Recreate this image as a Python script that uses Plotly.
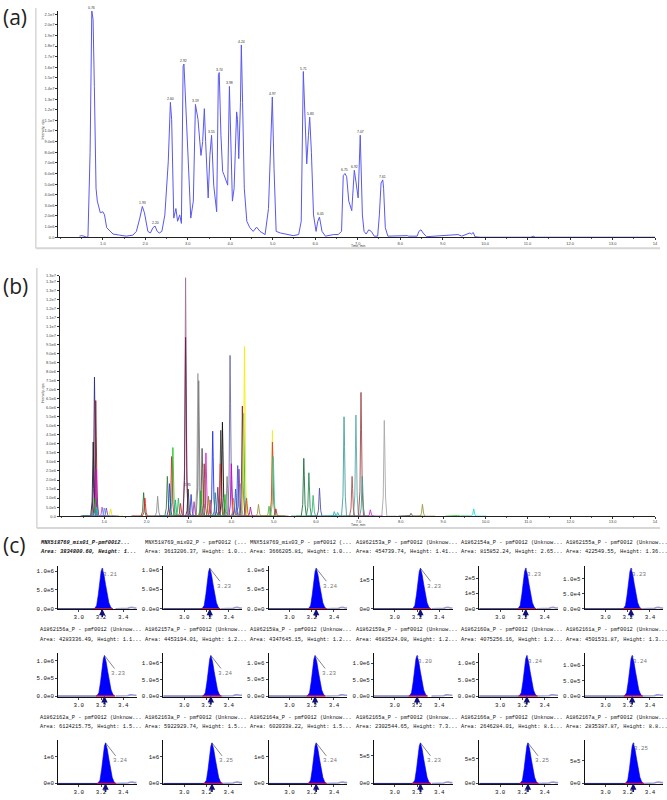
import plotly.graph_objects as go

W, H = 667, 800

# ---------------- (a) total ion chromatogram (intensity in 1e6 cps)
tic_time = [0.45, 0.50, 0.55, 0.60, 0.62, 0.65, 0.70, 0.74, 0.77, 0.80,
            0.84, 0.87, 0.94, 1.00, 1.04, 1.09, 1.16, 1.24, 1.39, 1.55,
            1.71, 1.79, 1.87, 1.93, 1.98, 2.06, 2.12, 2.18, 2.23, 2.28,
            2.33, 2.39, 2.46, 2.54, 2.59, 2.62, 2.67, 2.72, 2.76, 2.81,
            2.85, 2.89, 2.91, 2.95, 3.01, 3.07, 3.13, 3.18, 3.24, 3.31,
            3.35, 3.39, 3.42, 3.48, 3.52, 3.56, 3.61, 3.68, 3.72, 3.74,
            3.78, 3.82, 3.85, 3.91, 3.94, 3.98, 4.01, 4.05, 4.09, 4.15,
            4.17, 4.20, 4.24, 4.26, 4.29, 4.33, 4.39, 4.46, 4.54, 4.62,
            4.70, 4.82, 4.90, 4.95, 4.99, 5.03, 5.08, 5.18, 5.33, 5.48,
            5.61, 5.67, 5.72, 5.76, 5.80, 5.84, 5.87, 5.91, 5.96, 6.02,
            6.06, 6.10, 6.16, 6.24, 6.43, 6.54, 6.62, 6.66, 6.70, 6.74,
            6.79, 6.86, 6.92, 6.96, 7.01, 7.06, 7.11, 7.15, 7.20, 7.26,
            7.32, 7.39, 7.47, 7.51, 7.55, 7.59, 7.61, 7.65, 7.71, 8.17,
            8.20, 8.40, 8.44, 8.49, 8.54, 8.62, 8.93, 9.36, 9.45, 9.64,
            9.68, 9.72, 9.76, 9.88, 11.08, 11.13, 11.18, 14.0]
tic_int = [0.10, 0.15, 0.10, 0.05, 0.00, 0.05, 8.0, 21.3, 20.5, 14.2,
           4.6, 3.4, 2.3, 2.4, 2.1, 0.9, 0.6, 0.3, 0.2, 0.1,
           0.2, 0.55, 1.8, 2.9, 2.3, 0.55, 0.4, 0.9, 1.05, 0.55,
           0.4, 0.55, 2.1, 7.1, 12.7, 11.1, 1.8, 2.7, 1.5, 2.1,
           1.3, 16.1, 16.3, 12.7, 6.5, 1.8, 3.4, 12.5, 11.1, 7.7,
           9.0, 12.1, 9.0, 3.7, 7.7, 9.6, 4.9, 2.4, 15.3, 15.5,
           9.6, 6.2, 5.9, 5.1, 4.9, 14.2, 9.6, 3.4, 4.6, 11.8,
           11.1, 7.4, 12.7, 18.1, 12.7, 4.6, 1.5, 0.9, 0.55, 0.95,
           0.55, 0.25, 2.7, 8.0, 13.2, 6.5, 0.55, 0.4, 0.25, 0.15,
           0.25, 1.5, 15.6, 11.1, 6.9, 9.6, 11.3, 8.0, 2.1, 0.55,
           1.5, 1.9, 0.55, 0.1, 0.25, 0.25, 0.55, 5.8, 6.0, 5.7,
           3.4, 2.5, 6.3, 5.2, 3.7, 9.6, 2.1, 0.55, 0.3, 0.7,
           0.55, 0.1, 0.1, 2.1, 5.1, 5.4, 4.6, 0.9, 0.1, 0.15,
           0.1, 0.1, 0.55, 0.7, 0.4, 0.05, 0.15, 0.25, 0.1, 0.4,
           0.3, 0.45, 0.05, 0.0, 0.0, 0.1, 0.0, 0.0]
assert len(tic_time) == len(tic_int)

tic_label = ["0.76", "1.93", "2.20", "2.60", "2.92", "3.19", "3.55", "3.74", "3.98",
             "4.24", "4.97", "5.71", "5.83", "6.05", "6.75", "6.92", "7.07", "7.61"]
tic_label_t = [0.74, 1.93, 2.23, 2.59, 2.91, 3.18, 3.56, 3.74, 3.98,
               4.26, 4.99, 5.72, 5.90, 6.12, 6.70, 6.92, 7.06, 7.59]
tic_label_i = [21.3, 2.9, 1.05, 12.7, 16.3, 12.5, 9.6, 15.5, 14.2,
               18.1, 13.2, 15.6, 11.3, 1.9, 6.0, 6.3, 9.6, 5.4]

a_ytick_vals = list(range(0, 22))
a_ytick_text = ["0.0", "1.0e6", "2.0e6", "3.0e6", "4.0e6", "5.0e6", "6.0e6", "7.0e6",
                "8.0e6", "9.0e6", "1.0e7", "1.1e7", "1.2e7", "1.3e7", "1.4e7", "1.5e7",
                "1.6e7", "1.7e7", "1.8e7", "1.9e7", "2.0e7", "2.1e7"]

time_ticks = [1, 2, 3, 4, 5, 6, 7, 8, 9, 10, 11, 12, 13, 14]
time_tick_text = ["1.0", "2.0", "3.0", "4.0", "5.0", "6.0", "7.0", "8.0", "9.0",
                  "10.0", "11.0", "12.0", "13.0", "14"]

# ---------------- (b) overlaid extracted ion chromatograms (apex rt, height in 1e6 cps)
xic_rt = [0.77, 0.80, 0.74, 0.81, 0.79, 0.82, 1.15, 1.05, 1.93, 1.96,
          2.26, 2.62, 2.49, 2.59, 2.54, 2.92, 2.92, 2.75, 2.98, 3.21,
          3.23, 3.31, 3.40, 3.36, 3.56, 3.75, 3.79, 3.74, 3.90, 3.97,
          4.00, 4.15, 4.18, 4.26, 4.29, 4.31, 4.36, 4.64, 4.97, 4.97,
          4.99, 4.89, 5.71, 5.83, 5.93, 6.08, 6.51, 6.66, 6.94, 7.06,
          6.85, 7.09, 7.61, 7.28, 6.43, 8.51, 8.24, 9.72, 9.35,
          2.68, 2.80, 3.05, 3.12, 3.28, 3.46, 3.50, 3.62, 3.68, 3.85,
          4.05, 4.10, 4.22, 4.45, 5.05, 0.95, 1.00]
xic_height = [7.7, 6.4, 4.1, 2.6, 1.0, 0.5, 0.4, 0.45, 1.3, 1.0,
              1.1, 3.8, 2.2, 3.3, 1.8, 13.2, 9.9, 1.0, 1.5, 7.9,
              7.5, 3.75, 3.5, 2.9, 4.7, 4.75, 5.2, 2.9, 2.2, 8.9,
              2.9, 2.8, 2.6, 6.1, 5.7, 9.4, 1.0, 0.65, 4.75, 4.1,
              3.3, 0.55, 3.2, 2.4, 1.15, 1.55, 0.2, 5.5, 5.6, 6.85,
              2.2, 2.2, 5.3, 0.35, 0.25, 0.65, 0.15, 0.4, 0.05,
              0.9, 0.7, 1.2, 0.8, 1.4, 1.1, 0.9, 1.3, 1.6, 1.2,
              1.0, 1.5, 1.8, 0.5, 0.4, 0.5, 0.45]
xic_colors = ["#2E2E8A", "#8B1A1A", "#222222", "#E000E0", "#22AA22", "#00CCCC", "#E6E600", "#8040C0", "#1E7B3C", "#DD2222",
              "#909090", "#22CC22", "#3A7D3A", "#CC3333", "#2244DD", "#A07095", "#6B1F4B", "#33BB55", "#333333", "#A0A0A0",
              "#7A7A7A", "#555555", "#DD22DD", "#8B4513", "#2233EE", "#444444", "#111111", "#E03030", "#808080", "#6A6AA8",
              "#CC00CC", "#3355FF", "#7744AA", "#8B2252", "#2EAA77", "#F0F000", "#B8651E", "#999944", "#EEEE22", "#E04040",
              "#33CC99", "#44BB44", "#1F6F3F", "#2E8B57", "#3CB371", "#5555AA", "#20B2AA", "#4A9E9E", "#5AAAA8", "#A04848",
              "#B05050", "#3F9F8F", "#A8A8A8", "#CC33CC", "#44AAAA", "#9A9A40", "#555555", "#22DDDD", "#44CC44",
              "#22AA88", "#CC3333", "#3344CC", "#AA44AA", "#22AA22", "#888800", "#DD4444", "#228888", "#444499", "#22BB22",
              "#EE8800", "#2266CC", "#999999", "#AA22AA", "#AA3333", "#CC44CC", "#44AAEE"]
# peak profile (minutes from apex, fraction of apex)
xic_dt = [-0.30, -0.06, -0.025, -0.01, 0.0, 0.012, 0.03, 0.06, 0.30]
xic_frac = [0.0, 0.0, 0.2, 0.75, 1.0, 0.7, 0.2, 0.0, 0.0]

b_ytick_vals = [0, 0.5, 1.0, 1.5, 2.0, 2.5, 3.0, 3.5, 4.0, 4.5, 5.0, 5.5, 6.0, 6.5,
                7.0, 7.5, 8.0, 8.5, 9.0, 9.5, 10.0, 10.5, 11.0, 11.5, 12.0, 12.5, 13.0, 13.3]
b_ytick_text = ["0.0", "5.0e5", "1.0e6", "1.5e6", "2.0e6", "2.5e6", "3.0e6", "3.5e6", "4.0e6",
                "4.5e6", "5.0e6", "5.5e6", "6.0e6", "6.5e6", "7.0e6", "7.5e6", "8.0e6", "8.5e6",
                "9.0e6", "9.5e6", "1.0e7", "1.1e7", "1.1e7", "1.2e7", "1.2e7", "1.3e7", "1.3e7", "1.3e7"]

# ---------------- (c) integrated peaks, 3 rows x 6 samples
cell_names = ["MNX518769_mix01_P-pmf0012...", "MNX518769_mix02_P - pmf0012 (...",
              "MNX518769_mix03_P - pmf0012 (...", "A1862153a_P - pmf0012 (Unknow...",
              "A1862154a_P - pmf0012 (Unknow...", "A1862155a_P - pmf0012 (Unknow...",
              "A1862156a_P - pmf0012 (Unknow...", "A1862157a_P - pmf0012 (Unknow...",
              "A1862158a_P - pmf0012 (Unknow...", "A1862159a_P - pmf0012 (Unknow...",
              "A1862160a_P - pmf0012 (Unknow...", "A1862161a_P - pmf0012 (Unknow...",
              "A1862162a_P - pmf0012 (Unknow...", "A1862163a_P - pmf0012 (Unknow...",
              "A1862164a_P - pmf0012 (Unknow...", "A1862165a_P - pmf0012 (Unknow...",
              "A1862166a_P - pmf0012 (Unknow...", "A1862167a_P - pmf0012 (Unknow..."]
cell_area = ["3834800.60", "3613206.37", "3666205.81", "454739.74", "815852.24", "422549.55",
             "4283336.49", "4453194.01", "4347645.15", "4683524.08", "4075256.16", "4501531.87",
             "6124215.75", "5922929.74", "6020338.22", "2302544.65", "2646284.01", "2835387.87"]
cell_height_txt = ["1...", "1.0...", "1.0...", "1.41...", "2.65...", "1.36...",
                   "1.1...", "1.2...", "1.2...", "1.2...", "1.2...", "1.3...",
                   "1.5...", "1.5...", "1.5...", "7.3...", "8.1...", "8.8..."]
cell_height = [1.08e6, 1.04e6, 1.05e6, 1.41e5, 2.65e5, 1.36e5,
               1.15e6, 1.22e6, 1.21e6, 1.24e6, 1.22e6, 1.32e6,
               1.53e6, 1.52e6, 1.53e6, 7.35e5, 8.15e5, 8.85e5]
cell_rt = [3.21, 3.23, 3.24, 3.23, 3.23, 3.23,
           3.23, 3.24, 3.23, 3.20, 3.24, 3.24,
           3.24, 3.25, 3.24, 3.23, 3.25, 3.25]
cell_tickvals = [[0, 5e5, 1e6]] * 3 + [[0, 1e5], [0, 1e5, 2e5], [0, 5e4, 1e5]] \
    + [[0, 5e5, 1e6]] * 6 + [[0, 1e6]] * 3 + [[0, 5e5]] * 3
cell_ticktext = [["0.0e0", "5.0e5", "1.0e6"]] * 3 \
    + [["0e0", "1e5"], ["0e0", "1e5", "2e5"], ["0.0e0", "5.0e4", "1.0e5"]] \
    + [["0.0e0", "5.0e5", "1.0e6"]] * 6 + [["0e0", "1e6"]] * 3 + [["0e0", "5e5"]] * 3
# peak profile (minutes from apex, fraction of height) and right-hand baseline
peak_dt = [-0.07, -0.05, -0.035, -0.02, -0.01, 0.0, 0.015, 0.03, 0.045, 0.06, 0.075, 0.09]
peak_frac = [0.0, 0.08, 0.35, 0.72, 0.92, 1.0, 0.85, 0.6, 0.35, 0.15, 0.05, 0.0]
tail_t = [3.33, 3.40, 3.44, 3.46, 3.48, 3.50, 3.52]
tail_frac = [0.0, 0.005, 0.01, 0.03, 0.035, 0.02, 0.02]

# label placement style per cell (True = label away from apex)
label_far = [False, True, True, True, False, False,
             True, True, True, False, False, False,
             True, True, True, True, True, False]

SANS = "Liberation Sans"
MONO = "Liberation Mono"


def xd(x0, x1):
    return [x0 / W, x1 / W]


def yd(top, bot):
    return [1 - bot / H, 1 - top / H]


fig = go.Figure()
annotations = []
shapes = []

# ---- panel a
fig.add_trace(go.Scatter(x=tic_time, y=tic_int, mode="lines", xaxis="x", yaxis="y",
                         line=dict(color="#5858EE", width=1)))
for lab, t, v in zip(tic_label, tic_label_t, tic_label_i):
    annotations.append(dict(x=t, y=v, xref="x", yref="y", text=lab, showarrow=False,
                            yshift=3, font=dict(family=SANS, size=3.5, color="#333")))

# ---- panel b
for rt, h, col in zip(xic_rt, xic_height, xic_colors):
    fig.add_trace(go.Scatter(x=[rt + d for d in xic_dt], y=[h * f for f in xic_frac],
                             mode="lines", xaxis="x2", yaxis="y2",
                             line=dict(color=col, width=0.9)))
annotations.append(dict(x=2.97, y=1.6, xref="x2", yref="y2", text="2.95", showarrow=False,
                        yshift=2, font=dict(family=SANS, size=3.5, color="#333")))

chrom_tickfont = dict(family=SANS, size=4, color="#444")


def chrom_x(dom, anchor):
    return dict(domain=dom, anchor=anchor, range=[-0.05, 14.0], tickmode="array",
                tickvals=time_ticks, ticktext=time_tick_text, ticks="outside", ticklen=1.5,
                tickwidth=0.5, tickcolor="#333", showline=True, linecolor="#222",
                linewidth=1, showgrid=False, zeroline=False, tickfont=chrom_tickfont,
                ticklabelstandoff=0,
                minor=dict(tick0=0, dtick=0.5, ticks="outside", ticklen=1.2, tickcolor="#555"))


def chrom_y(dom, anchor, rng, vals, text):
    return dict(domain=dom, anchor=anchor, range=rng, tickmode="array", tickvals=vals,
                ticktext=text, ticks="outside", ticklen=2, tickwidth=0.5, tickcolor="#333",
                showline=True, linecolor="#222", linewidth=1, showgrid=False,
                zeroline=False, tickfont=chrom_tickfont)


layout = dict(
    xaxis=chrom_x(xd(58.5, 658), "y"),
    yaxis=chrom_y(yd(8, 236), "x", [0, 21.3], a_ytick_vals, a_ytick_text),
    xaxis2=chrom_x(xd(60, 658), "y2"),
    yaxis2=chrom_y(yd(275, 517), "x2", [0, 13.3], b_ytick_vals, b_ytick_text),
)

# panel frames and axis titles
for left, top, bot in [(36, 5, 247), (37, 267, 529)]:
    shapes.append(dict(type="line", xref="paper", yref="paper", x0=left / W, x1=left / W,
                       y0=1 - top / H, y1=1 - bot / H, line=dict(color="#D6D6D6", width=1.5)))
    shapes.append(dict(type="line", xref="paper", yref="paper", x0=left / W, x1=663 / W,
                       y0=1 - bot / H, y1=1 - bot / H, line=dict(color="#D6D6D6", width=2)))
for ycen, ytime in [(115, 244.6), (393, 525.8)]:
    annotations.append(dict(x=39.5 / W, y=1 - ycen / H, xref="paper", yref="paper",
                            text="Intensity, cps", textangle=-90, showarrow=False,
                            font=dict(family=SANS, size=3.5, color="#333")))
    annotations.append(dict(x=351 / W, y=1 - ytime / H, xref="paper", yref="paper",
                            text="Time, min", showarrow=False, xanchor="left",
                            yanchor="middle",
                            font=dict(family=SANS, size=3.3, color="#333")))

for lab, ycen in [("(a)", 14), ("(b)", 285), ("(c)", 546)]:
    annotations.append(dict(x=1 / W, y=1 - ycen / H, xref="paper", yref="paper", text=lab,
                            xanchor="left", yanchor="middle", showarrow=False,
                            font=dict(family="Open Sans", size=21, color="#222")))

# ---- panel c
for idx in range(18):
    r, c = divmod(idx, 6)
    k = idx + 3
    ax = 58.3 + c * 105.8
    bot = 611 + r * 88
    h = cell_height[idx]
    rt = cell_rt[idx]
    top = h * 1.06
    xa, ya = f"x{k}", f"y{k}"

    fig.add_trace(go.Scatter(x=[2.80, rt - 0.07], y=[0, 0], mode="lines", xaxis=xa, yaxis=ya,
                             line=dict(color="#1A1A80", width=1)))
    fig.add_trace(go.Scatter(x=tail_t, y=[h * f for f in tail_frac], mode="lines",
                             xaxis=xa, yaxis=ya, line=dict(color="#9A9AD0", width=1.6)))
    fig.add_trace(go.Scatter(x=[rt + d for d in peak_dt], y=[h * f for f in peak_frac],
                             mode="lines", fill="toself", fillcolor="#0000FF",
                             xaxis=xa, yaxis=ya, line=dict(color="#0000EE", width=0.6)))
    fig.add_trace(go.Scatter(x=[rt - 0.075, rt + 0.095], y=[0, 0], mode="lines",
                             xaxis=xa, yaxis=ya, line=dict(color="#D0104A", width=1.6)))

    layout[f"xaxis{k}"] = dict(domain=xd(ax, ax + 79), anchor=ya, range=[2.813, 3.52],
                               tickmode="array", tickvals=[3.0, 3.2, 3.4],
                               ticktext=["3.0", "3.2", "3.4"], ticks="outside", ticklen=2,
                               tickwidth=0.6, showline=True, linecolor="#111", linewidth=1,
                               showgrid=False, zeroline=False,
                               tickfont=dict(family=MONO, size=5.8, color="#111"))
    layout[f"yaxis{k}"] = dict(domain=yd(bot - 44, bot), anchor=xa, range=[-0.015 * top, top],
                               tickmode="array", tickvals=cell_tickvals[idx],
                               ticktext=cell_ticktext[idx], ticks="outside", ticklen=2,
                               tickwidth=0.6, showline=True, linecolor="#111", linewidth=1,
                               showgrid=False, zeroline=False,
                               tickfont=dict(family=MONO, size=5.8, color="#111"))

    line1 = cell_names[idx]
    line2 = f"Area: {cell_area[idx]}, Height: {cell_height_txt[idx]}"
    if idx == 0:
        line1 = f"<b><i>{line1}</i></b>"
        line2 = f"<b><i>{line2}</i></b>"
    tx = (ax - 20.3) / W
    for txt, yy in [(line1, bot - 67), (line2, bot - 57.5)]:
        annotations.append(dict(x=tx, y=1 - yy / H, xref="paper", yref="paper", text=txt,
                                xanchor="left", yanchor="middle", showarrow=False,
                                font=dict(family=MONO, size=5.3, color="#111")))

    # retention time label with leader line
    ox, oy = (14, 18) if label_far[idx] else (8, 6)
    annotations.append(dict(x=rt, y=h, xref=xa, yref=ya, text=f"{rt:.2f}", showarrow=True,
                            ax=ox, ay=oy, arrowhead=0, arrowwidth=0.6, arrowcolor="#333",
                            standoff=0, font=dict(family=MONO, size=5.8, color="#777")))
    # apex marker arrow under the axis
    annotations.append(dict(x=rt, y=0, xref=xa, yref=ya, text="", showarrow=True, ax=0, ay=10,
                            arrowhead=2, arrowsize=0.8, arrowwidth=1.6, arrowcolor="#10107A"))

fig.update_layout(width=W, height=H, margin=dict(l=0, r=0, t=0, b=0), showlegend=False,
                  paper_bgcolor="white", plot_bgcolor="rgba(0,0,0,0)",
                  annotations=annotations, shapes=shapes, **layout)

# the page body has a default 8px margin; drop it so the figure sits at the window corner
fig.write_html("out.html", config={"displayModeBar": False},
               post_script="document.body.style.margin='0px';")
